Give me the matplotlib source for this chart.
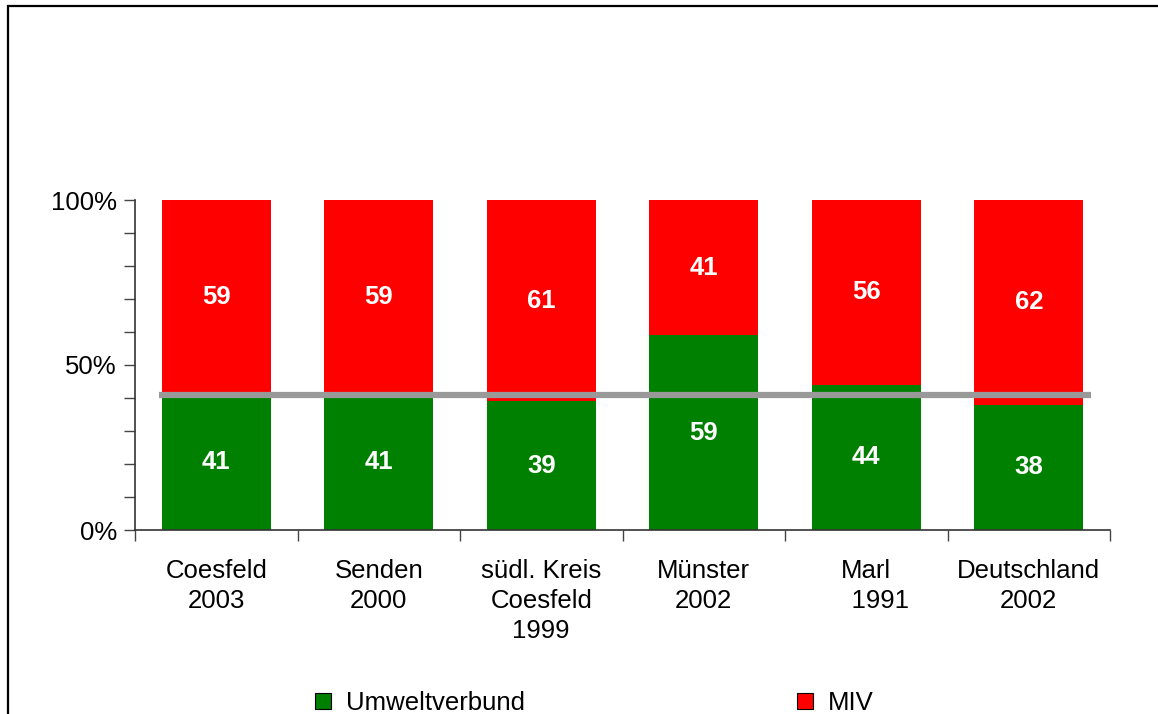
import matplotlib
matplotlib.use("Agg")
import matplotlib.pyplot as plt
from matplotlib.patches import Patch, Rectangle

plt.rcParams["font.family"] = ["Liberation Sans", "DejaVu Sans"]

# data
regions = ["Coesfeld\n2003", "Senden\n2000", "südl. Kreis\nCoesfeld\n1999",
           "Münster\n2002", "Marl\n    1991", "Deutschland\n2002"]
umweltverbund = [41, 41, 39, 59, 44, 38]
miv = [59, 59, 61, 41, 56, 62]
reference_share = 41  # Coesfeld 2003 Umweltverbund share
yticks_major = [0, 50, 100]
ytick_labels = ["0%", "50%", "100%"]

GREEN = "#008000"
RED = "#FF0000"

fig = plt.figure(figsize=(11.58, 7.14), dpi=100)
ax = fig.add_axes([135 / 1158, 1 - 530 / 714, 975 / 1158, 330 / 714])

x = range(len(regions))
w = 0.67
ax.bar(x, umweltverbund, width=w, color=GREEN, zorder=2)
ax.bar(x, miv, width=w, bottom=umweltverbund, color=RED, zorder=2)

for i, (g, r) in enumerate(zip(umweltverbund, miv)):
    ax.text(i, g / 2, str(g), ha="center", va="center", color="white",
            fontsize=18.5, fontweight="bold", zorder=4)
    ax.text(i, g + r / 2, str(r), ha="center", va="center", color="white",
            fontsize=18.5, fontweight="bold", zorder=4)

ax.plot([-0.35, len(regions) - 1 + 0.38], [reference_share] * 2,
        color="#999999", lw=4.5, solid_capstyle="butt", zorder=3)

ax.set_xlim(-0.5, len(regions) - 0.5)
ax.set_ylim(0, 100)

# y axis
ax.set_yticks(yticks_major, ytick_labels)
ax.set_yticks(range(0, 101, 10), minor=True)
ax.tick_params(axis="y", which="both", length=8, width=1, color="#444444",
               labelsize=18.5, pad=5)

# x axis: ticks on category boundaries, labels at centers
ax.set_xticks([i - 0.5 for i in range(len(regions) + 1)], [""] * (len(regions) + 1))
ax.set_xticks(list(x), regions, minor=True)
ax.tick_params(axis="x", which="major", length=8, width=1, color="#444444")
ax.tick_params(axis="x", which="minor", length=0, labelsize=18.5, pad=21)
for lbl in ax.get_xticklabels(minor=True):
    lbl.set_linespacing(1.3)
    lbl.set_va("top")

for s in ["top", "right"]:
    ax.spines[s].set_visible(False)
for s in ["left", "bottom"]:
    ax.spines[s].set_color("#333333")
    ax.spines[s].set_linewidth(1.2)

handles = [Patch(facecolor=GREEN, edgecolor="black", lw=0.8, label="Umweltverbund"),
           Patch(facecolor=RED, edgecolor="black", lw=0.8, label="MIV")]
fig.legend(handles=handles, loc="lower left", bbox_to_anchor=(292 / 1158, -0.034),
           ncol=2, frameon=False, fontsize=18.5, handlelength=0.6,
           handleheight=0.6, handletextpad=0.6, columnspacing=10.6)

# outer frame
fig.patches.append(Rectangle((8 / 1158, -0.1), 2, 1.1 - 6 / 714,
                             transform=fig.transFigure, fill=False,
                             edgecolor="black", lw=1.6))

fig.savefig("out.png", dpi=100)
